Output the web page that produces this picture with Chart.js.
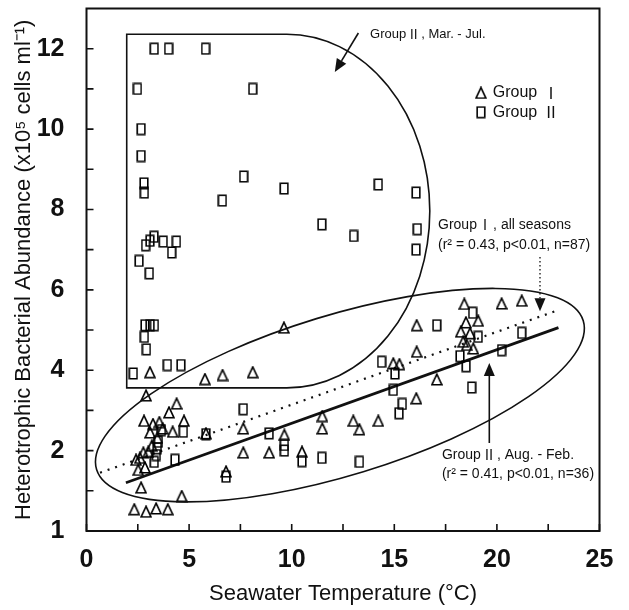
<!DOCTYPE html>
<html>
<head>
<meta charset="utf-8">
<script src="https://cdn.jsdelivr.net/npm/chart.js@4.4.0/dist/chart.umd.min.js"></script>
<style>
  html, body { margin: 0; padding: 0; background: #fff; }
  #wrap { width: 629px; height: 610px; }
</style>
</head>
<body>
<div id="wrap"><canvas id="chart"></canvas></div>
<script>
// Group I (triangles): [seawater temp °C, abundance in axis units]
const groupI = [
  [9.62,5.06],[3.09,3.95],[5.77,3.78],[6.63,3.88],[8.1,3.95],[2.9,3.37],[4.39,3.17],[4.02,2.95],
  [2.8,2.74],[3.24,2.66],[3.55,2.71],[4.75,2.74],[4.2,2.47],[3.71,2.55],[3.45,2.32],[3.1,2.45],
  [7.64,2.55],[11.49,2.86],[11.49,2.55],[13.0,2.74],[13.3,2.53],[14.22,2.74],[9.64,2.39],[5.82,2.43],
  [7.64,1.95],[8.9,1.95],[10.5,1.97],[3.18,2.12],[3.01,1.97],[2.77,1.95],[2.6,1.82],[2.41,1.77],
  [2.52,1.52],[2.85,1.58],[2.66,1.08],[4.64,0.87],[2.33,0.54],[2.9,0.48],[3.39,0.56],[3.96,0.54],
  [6.8,1.48],
  [18.41,5.65],[20.23,5.66],[21.21,5.73],[19.09,5.23],[18.49,5.19],[16.09,5.12],[18.24,4.96],
  [18.69,4.92],[18.36,4.71],[18.53,4.63],[18.85,4.54],[16.09,4.46],[14.95,4.17],[15.25,4.15],
  [17.07,3.77],[16.07,3.3]
];
// Group II (squares)
const groupII = [
  [3.3,12],[4.0,12],[5.8,12],[2.48,11],[8.1,11],[2.66,10],[2.66,9.33],[2.8,8.65],[2.82,8.42],
  [7.66,8.82],[6.62,8.22],[9.63,8.52],[14.22,8.62],[16.06,8.42],[11.47,7.63],[13.02,7.34],
  [16.12,7.51],[16.06,7.0],[3.29,7.32],[3.09,7.22],[2.88,7.11],[3.74,7.2],[4.38,7.2],[4.15,6.93],
  [2.56,6.72],[3.06,6.41],[2.85,5.12],[3.1,5.12],[3.31,5.12],[2.82,4.83],[2.92,4.52],[2.28,3.92],
  [3.94,4.13],[4.6,4.13],
  [7.64,3.03],[3.65,2.51],[4.72,2.47],[5.82,2.41],[8.9,2.43],[9.64,2.14],[9.64,2.0],[3.5,2.22],
  [3.45,2.06],[3.4,1.89],[3.3,1.72],[4.31,1.77],[10.5,1.74],[11.47,1.82],[13.3,1.72],[6.8,1.35],
  [18.82,5.43],[17.07,5.12],[19.09,4.83],[21.21,4.93],[20.23,4.5],[18.2,4.35],[18.5,4.1],
  [14.38,4.21],[15.03,3.92],[14.95,3.51],[18.77,3.57],[15.39,3.16],[15.23,2.93]
];
// regression line end points
const fitGroupI  = [[0.66,1.45],[22.9,5.48]];   // all seasons, dotted
const fitGroupII = [[1.92,1.20],[23.0,5.06]];   // Aug. - Feb., solid

const xTickValues = [0,5,10,15,20,25];
const xTickLabels = ['0','5','10','15','20','25'];
const yTickValues = [0,2,4,6,8,10,12];
const yTickLabels = ['1','2','4','6','8','10','12'];

const toPts = arr => arr.map(([x,y]) => ({x, y}));

function markerCanvas(kind) {
  const c = document.createElement('canvas');
  const w = kind === 'tri' ? 12 : 10, h = 13;
  c.width = w; c.height = h;
  const g = c.getContext('2d');
  g.strokeStyle = '#000'; g.lineWidth = 1.6;
  g.beginPath();
  if (kind === 'tri') { g.moveTo(6,1.2); g.lineTo(11,11.8); g.lineTo(1,11.8); g.closePath(); }
  else g.rect(1.2,1.2,7.6,10.6);
  g.stroke();
  return c;
}
const triImg = markerCanvas('tri');
const sqImg = markerCanvas('sq');

const tickFont = { family: "'Liberation Sans Narrow', 'Arial Narrow', 'Liberation Sans', Arial, sans-serif", size: 25, weight: 'bold' };
const titleFont = { family: "'Liberation Sans', Arial, sans-serif", size: 22 };
const LAT = "'Liberation Sans', Arial, sans-serif";
const CJK = "'Noto Sans CJK JP', 'Noto Sans CJK SC', sans-serif";

// draw text where roman numerals use a CJK face, with the full-width padding trimmed
function runs(ctx, text, x, y, size) {
  let cx = x;
  for (const part of text.split(/([ⅠⅡ])/)) {
    if (!part) continue;
    const roman = /[ⅠⅡ]/.test(part);
    ctx.font = `${size}px ${roman ? CJK : LAT}`;
    const w = ctx.measureText(part).width;
    if (roman) { ctx.fillText(part, cx - size * 0.2, y); cx += w - size * 0.4; }
    else { ctx.fillText(part, cx, y); cx += w; }
  }
}

function arrow(ctx, x0, y0, x1, y1, dashed) {
  const ang = Math.atan2(y1 - y0, x1 - x0), hl = 13, hw = 5.5;
  const bx = x1 - hl * Math.cos(ang), by = y1 - hl * Math.sin(ang);
  ctx.save();
  ctx.lineWidth = dashed ? 1.3 : 1.6;
  if (dashed) ctx.setLineDash([1.5, 2.5]);
  ctx.beginPath(); ctx.moveTo(x0, y0); ctx.lineTo(bx, by); ctx.stroke();
  ctx.setLineDash([]);
  ctx.beginPath();
  ctx.moveTo(x1, y1);
  ctx.lineTo(bx + hw * Math.sin(ang), by - hw * Math.cos(ang));
  ctx.lineTo(bx - hw * Math.sin(ang), by + hw * Math.cos(ang));
  ctx.closePath(); ctx.fill();
  ctx.restore();
}

const decor = {
  id: 'decor',
  afterDatasetsDraw(chart) {
    const { ctx, chartArea: a, scales: { x, y } } = chart;
    const X = v => x.getPixelForValue(v), Y = v => y.getPixelForValue(v);
    const pxPerX = X(1) - X(0);
    ctx.save();
    ctx.strokeStyle = '#111'; ctx.fillStyle = '#111';

    // frame + inward ticks
    ctx.lineWidth = 2;
    ctx.strokeRect(a.left, a.top, a.right - a.left, a.bottom - a.top);
    ctx.lineWidth = 1.6;
    ctx.beginPath();
    x.ticks.forEach(t => { const p = X(t.value); ctx.moveTo(p, a.bottom); ctx.lineTo(p, a.bottom - 7); });
    y.ticks.forEach(t => { if (t.value > 12) return; const p = Y(t.value); ctx.moveTo(a.left, p); ctx.lineTo(a.left + 7, p); });
    ctx.stroke();

    // Group II Mar.-Jul. enclosure
    ctx.lineWidth = 1.6;
    ctx.beginPath();
    ctx.moveTo(X(1.96), Y(3.56));
    ctx.lineTo(X(1.96), Y(12.36));
    ctx.lineTo(X(9.76), Y(12.36));
    ctx.ellipse(X(9.76), Y(7.96), X(16.73) - X(9.76), Y(3.56) - Y(7.96), 0, -Math.PI / 2, Math.PI / 2);
    ctx.closePath();
    ctx.stroke();

    // Group I ellipse
    ctx.beginPath();
    ctx.ellipse(X(12.35), Y(3.38), 12.4 * pxPerX, 3.9 * pxPerX, -17 * Math.PI / 180, 0, Math.PI * 2);
    ctx.stroke();

    // arrows
    arrow(ctx, X(13.25), Y(12.39), X(12.1), Y(11.42), false);
    arrow(ctx, X(22.1), Y(6.82), X(22.1), Y(5.47), true);
    arrow(ctx, X(19.63), Y(2.19), X(19.63), Y(4.18), false);

    // notes
    ctx.textBaseline = 'middle'; ctx.textAlign = 'left';
    runs(ctx, 'Group Ⅱ , Mar. - Jul.', X(13.82), Y(12.36), 13);
    runs(ctx, 'Group Ⅰ , all seasons', X(17.13), Y(7.61), 14);
    runs(ctx, '(r² = 0.43, p<0.01, n=87)', X(17.13), Y(7.11), 14);
    runs(ctx, 'Group Ⅱ , Aug. - Feb.', X(17.32), Y(1.89), 14);
    runs(ctx, '(r² = 0.41, p<0.01, n=36)', X(17.32), Y(1.42), 14);

    // legend
    ctx.drawImage(triImg, X(19.22) - 6, Y(10.9) - 6.5);
    runs(ctx, 'Group  Ⅰ', X(19.8), Y(10.9), 16);
    ctx.drawImage(sqImg, X(19.22) - 5, Y(10.42) - 6.5);
    runs(ctx, 'Group  Ⅱ', X(19.8), Y(10.42), 16);
    ctx.restore();
  }
};

const noPad = s => { s.paddingTop = 0; s.paddingBottom = 0; s.paddingLeft = 0; s.paddingRight = 0; };

new Chart(document.getElementById('chart'), {
  type: 'scatter',
  data: {
    datasets: [
      { label: 'Group I', data: toPts(groupI), pointStyle: triImg, pointRadius: 6 },
      { label: 'Group II', data: toPts(groupII), pointStyle: sqImg, pointRadius: 6 },
      { label: 'Group I, all seasons', data: toPts(fitGroupI), showLine: true, pointRadius: 0,
        borderColor: '#111', borderWidth: 2.2, borderDash: [2, 6] },
      { label: 'Group II, Aug. - Feb.', data: toPts(fitGroupII), showLine: true, pointRadius: 0,
        borderColor: '#111', borderWidth: 2.8 }
    ]
  },
  options: {
    responsive: true,
    maintainAspectRatio: false,
    animation: false,
    layout: { padding: { left: 0, right: 29.5, top: 8.5, bottom: 0 } },
    plugins: { legend: { display: false }, tooltip: { enabled: false } },
    scales: {
      x: {
        type: 'linear', min: 0, max: 25,
        grid: { display: false }, border: { display: false },
        ticks: {
          stepSize: 2.5, autoSkip: false, maxRotation: 0, padding: 6, color: '#111', font: tickFont,
          callback: v => { const i = xTickValues.indexOf(v); return i < 0 ? '' : xTickLabels[i]; }
        },
        title: { display: true, text: 'Seawater Temperature (°C)', color: '#111', font: titleFont, padding: { top: 0, bottom: 3 } },
        afterFit: s => { s.height = 79; noPad(s); }
      },
      y: {
        type: 'linear', min: 0, max: 13,
        grid: { display: false }, border: { display: false },
        ticks: {
          stepSize: 1, autoSkip: false, padding: 14, color: '#111', font: tickFont,
          callback: v => { const i = yTickValues.indexOf(v); return i < 0 ? '' : yTickLabels[i]; }
        },
        title: { display: true, text: 'Heterotrophic Bacterial Abundance (x10⁵ cells ml⁻¹)', color: '#111', font: titleFont, padding: { top: 11, bottom: 0 } },
        afterFit: s => { s.width = 86.5; noPad(s); }
      }
    }
  },
  plugins: [decor]
});
</script>
</body>
</html>
